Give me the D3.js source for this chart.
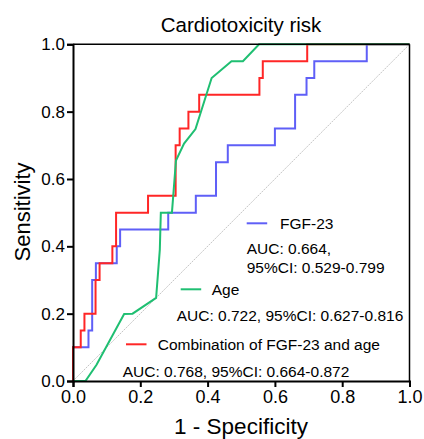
<!DOCTYPE html>
<html><head><meta charset="utf-8">
<script src="https://cdn.jsdelivr.net/npm/d3@7"></script>
<style>body{margin:0;background:#fff}svg{display:block}text{font-family:"Liberation Sans",Arial,sans-serif}</style>
</head><body>
<svg id="c" width="424" height="439"></svg>
<script>
const ticks = [0, 0.2, 0.4, 0.6, 0.8, 1.0];
const fgfFpr = [0,0,0.046,0.046,0.057,0.057,0.068,0.068,0.13,0.13,0.14,0.14,0.283,0.283,0.365,0.365,0.425,0.425,0.46,0.46,0.6,0.6,0.66,0.66,0.694,0.694,0.717,0.717,0.873,0.873,1];
const fgfTpr = [0,0.1,0.1,0.15,0.15,0.3,0.3,0.35,0.35,0.4,0.4,0.45,0.45,0.5,0.5,0.55,0.55,0.65,0.65,0.7,0.7,0.75,0.75,0.85,0.85,0.9,0.9,0.95,0.95,1,1];
const ageFpr = [0,0.037,0.07,0.152,0.177,0.247,0.258,0.261,0.294,0.306,0.33,0.364,0.412,0.471,0.505,0.553,1];
const ageTpr = [0,0,0.048,0.199,0.2,0.247,0.39,0.5,0.5,0.655,0.705,0.748,0.9,0.95,0.95,1,1];
const combFpr = [0,0,0.023,0.023,0.034,0.034,0.067,0.067,0.079,0.079,0.117,0.117,0.128,0.128,0.223,0.223,0.305,0.305,0.317,0.317,0.343,0.343,0.375,0.375,0.554,0.554,0.564,0.564,0.696,0.696,1];
const combTpr = [0,0.1,0.1,0.15,0.15,0.2,0.2,0.3,0.3,0.35,0.35,0.4,0.4,0.5,0.5,0.55,0.55,0.7,0.7,0.75,0.75,0.8,0.8,0.85,0.85,0.9,0.9,0.95,0.95,1,1];
const seriesNames = ["FGF-23", "Age", "Combination of FGF-23 and age"];
const aucTexts = [["AUC: 0.664,", "95%CI: 0.529-0.799"], ["AUC: 0.722, 95%CI: 0.627-0.816"], ["AUC: 0.768, 95%CI: 0.664-0.872"]];
const colors = ["#5f5ff7", "#1fbf72", "#ff2626"];

const svg = d3.select("#c");
const x = d3.scaleLinear().domain([0,1]).range([73, 409.5]);
const y = d3.scaleLinear().domain([0,1]).range([381, 44.3]);

// diagonal
svg.append("line").attr("x1", x(0)).attr("y1", y(0)).attr("x2", x(1)).attr("y2", y(1))
  .attr("stroke", "#aaa").attr("stroke-width", 0.7).attr("stroke-dasharray", "2,1");

const line = d3.line().x(d => x(d[0])).y(d => y(d[1]));
const data = [
  d3.zip(fgfFpr, fgfTpr),
  d3.zip(ageFpr, ageTpr),
  d3.zip(combFpr, combTpr)
];
[0,2,1].forEach(i => {
  svg.append("path").datum(data[i]).attr("d", line).attr("fill", "none")
    .attr("stroke", colors[i]).attr("stroke-width", 2).attr("stroke-linejoin", "miter");
});

// frame top/right
svg.append("line").attr("x1", x(0)).attr("x2", x(1)).attr("y1", y(1)).attr("y2", y(1)).attr("stroke", "#000").attr("stroke-width", 1.5);
svg.append("line").attr("x1", x(1)).attr("x2", x(1)).attr("y1", y(0)).attr("y2", y(1)).attr("stroke", "#000").attr("stroke-width", 1.5);

const fmt = d3.format(".1f");
const gx = svg.append("g").attr("transform", `translate(0,${y(0)})`)
  .call(d3.axisBottom(x).tickValues(ticks).tickFormat(fmt).tickSize(6).tickPadding(3));
const gy = svg.append("g").attr("transform", `translate(${x(0)},0)`)
  .call(d3.axisLeft(y).tickValues(ticks).tickFormat(fmt).tickSize(6).tickPadding(2));
[gx, gy].forEach(g => {
  g.select(".domain").attr("stroke", "#000").attr("stroke-width", 2);
  g.selectAll(".tick line").attr("stroke", "#000").attr("stroke-width", 2);
  g.selectAll(".tick text").attr("fill", "#000").style("font-family", '"Liberation Sans",Arial,sans-serif');
});
gx.selectAll(".tick text").style("font-size", "18px");
gy.selectAll(".tick text").style("font-size", "17px");

// titles
svg.append("text").attr("x", 241).attr("y", 31.5).attr("text-anchor", "middle").style("font-size", "20.5px").text("Cardiotoxicity risk");
svg.append("text").attr("x", 241).attr("y", 433.5).attr("text-anchor", "middle").style("font-size", "22.5px").text("1 - Specificity");
svg.append("text").attr("transform", "translate(30,212) rotate(-90)").attr("text-anchor", "middle").style("font-size", "22px").text("Sensitivity");

// legend
const leg = [
  {lx: 246.7, ly: 223.3, tx: 280, ty: 228.5, a: [[246.7, 254], [246.7, 272.5]]},
  {lx: 180.7, ly: 289.3, tx: 211.7, ty: 294.5, a: [[176.7, 321]]},
  {lx: 126, ly: 344.3, tx: 157.7, ty: 349.5, a: [[122.7, 376.5]]}
];
leg.forEach((L, i) => {
  svg.append("line").attr("x1", L.lx).attr("x2", L.lx + 20.5).attr("y1", L.ly).attr("y2", L.ly)
    .attr("stroke", colors[i]).attr("stroke-width", 2);
  svg.append("text").attr("x", L.tx).attr("y", L.ty).style("font-size", "15.5px").text(seriesNames[i]);
  L.a.forEach((p, j) => {
    svg.append("text").attr("x", p[0]).attr("y", p[1]).style("font-size", "15.5px").text(aucTexts[i][j]);
  });
});
</script>
</body></html>
